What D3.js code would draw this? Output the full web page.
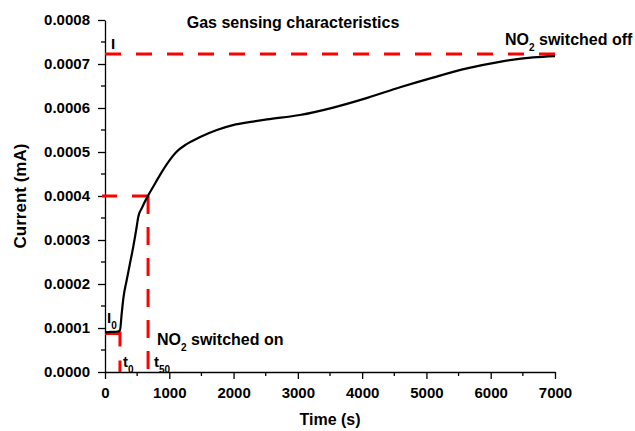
<!DOCTYPE html>
<html>
<head>
<meta charset="utf-8">
<script src="https://cdn.jsdelivr.net/npm/d3@7/dist/d3.min.js"></script>
<style>
  html, body { margin: 0; padding: 0; background: #fff; }
  svg { display: block; }
  text { font-family: "Liberation Sans", Arial, Helvetica, sans-serif; font-weight: bold; fill: #000; }
</style>
</head>
<body>
<svg id="chart" width="635" height="431"></svg>
<script>
// ---- Data ----
const timeS = [0, 100, 200, 233, 260, 285, 338, 389, 440, 493, 518, 571, 674, 750, 820, 960, 1110, 1270, 1480, 1740, 1990, 2300, 2520, 3030, 3550, 4080, 4590, 5100, 5630, 6140, 6660, 7000];
const currentMA = [0.000090, 0.000091, 0.000092, 0.000095, 0.000133, 0.000167, 0.000209, 0.000247, 0.000285, 0.000330, 0.000353, 0.000372, 0.000402, 0.000421, 0.000439, 0.000472, 0.000500, 0.000518, 0.000534, 0.000550, 0.000561, 0.000569, 0.000574, 0.000584, 0.000601, 0.000623, 0.000647, 0.000669, 0.000690, 0.000705, 0.000715, 0.000718];

const xTicks = [0, 1000, 2000, 3000, 4000, 5000, 6000, 7000];
const xMinorTicks = [500, 1500, 2500, 3500, 4500, 5500, 6500];
const yTicks = [0, 0.0001, 0.0002, 0.0003, 0.0004, 0.0005, 0.0006, 0.0007, 0.0008];
const yMinorTicks = [0.00005, 0.00015, 0.00025, 0.00035, 0.00045, 0.00055, 0.00065, 0.00075];

// reference marks
const iMax = 0.000723;   // I (final current)
const i50 = 0.0004;      // 50% current
const i0 = 0.0000875;    // I0 (baseline)
const t0 = 233;          // NO2 switched on
const t50 = 670;         // time to 50%
const tEnd = 7000;       // NO2 switched off

// ---- Layout ----
const svg = d3.select("#chart");
const x = d3.scaleLinear().domain([0, 7000]).range([105, 555]);
const y = d3.scaleLinear().domain([0, 0.0008]).range([372, 20]);

// Axes
const yAxis = d3.axisLeft(y).tickValues(yTicks).tickFormat(d3.format(".4f"))
  .tickSize(7).tickSizeOuter(0).tickPadding(8);
const xAxis = d3.axisBottom(x).tickValues(xTicks).tickFormat(d3.format("d"))
  .tickSize(7).tickSizeOuter(0).tickPadding(8);

const gy = svg.append("g").attr("transform", `translate(${x(0)},0)`).call(yAxis);
const gx = svg.append("g").attr("transform", `translate(0,${y(0)})`).call(xAxis);

[gx, gy].forEach(g => {
  g.select(".domain").attr("stroke", "#000").attr("stroke-width", 1.3);
  g.selectAll(".tick line").attr("stroke", "#000").attr("stroke-width", 1.3);
  g.selectAll(".tick text").style("font-size", "15px").style("font-family", "'Liberation Sans', Arial, sans-serif").style("font-weight", "bold").attr("fill", "#000");
});

// minor ticks
gy.selectAll(".minor").data(yMinorTicks).enter().append("line")
  .attr("x1", 0).attr("x2", -4).attr("y1", d => y(d)).attr("y2", d => y(d))
  .attr("stroke", "#000").attr("stroke-width", 1.3);
gx.selectAll(".minor").data(xMinorTicks).enter().append("line")
  .attr("y1", 0).attr("y2", 4).attr("x1", d => x(d)).attr("x2", d => x(d))
  .attr("stroke", "#000").attr("stroke-width", 1.3);

// Axis titles
svg.append("text").attr("x", 330).attr("y", 425).attr("text-anchor", "middle")
  .style("font-size", "16px").text("Time (s)");
svg.append("text").attr("transform", "translate(26,196) rotate(-90)").attr("text-anchor", "middle")
  .style("font-size", "17px").text("Current (mA)");

// Title
svg.append("text").attr("x", 293).attr("y", 28).attr("text-anchor", "middle")
  .style("font-size", "16px").text("Gas sensing characteristics");

// ---- Red reference lines ----
const red = "#ff0000";
const ref = svg.append("g").attr("fill", "none").attr("stroke", red).attr("stroke-width", 3);
// top line (I)
ref.append("line").attr("x1", x(0)).attr("x2", x(tEnd)).attr("y1", y(iMax)).attr("y2", y(iMax))
  .attr("stroke-dasharray", "16,15");
// 50% horizontal
ref.append("line").attr("x1", x(0) - 3).attr("x2", x(t50)).attr("y1", y(i50)).attr("y2", y(i50))
  .attr("stroke-dasharray", "15,15");
// t50 vertical
ref.append("line").attr("x1", x(t50)).attr("x2", x(t50)).attr("y1", y(i50)).attr("y2", y(0))
  .attr("stroke-dasharray", "18,13");
// I0 horizontal (solid)
ref.append("line").attr("x1", x(0)).attr("x2", x(t0)).attr("y1", y(i0)).attr("y2", y(i0));
// t0 vertical
ref.append("line").attr("x1", x(t0)).attr("x2", x(t0)).attr("y1", y(i0) - 2).attr("y2", y(0))
  .attr("stroke-dasharray", "15,14");

// ---- Curve ----
const pts = timeS.map((t, i) => [t, currentMA[i]]);
const line = d3.line().x(d => x(d[0])).y(d => y(d[1])).curve(d3.curveMonotoneX);
svg.append("path").datum(pts).attr("d", line)
  .attr("fill", "none").attr("stroke", "#000").attr("stroke-width", 2.2)
  .attr("stroke-linejoin", "round");

// ---- Annotations ----
function sub(sel, main, subTxt, rest, shift, subSize) {
  sel.append("tspan").text(main);
  sel.append("tspan").attr("dy", shift).style("font-size", subSize + "px").text(subTxt);
  if (rest) sel.append("tspan").attr("dy", -shift).text(rest);
}
svg.append("text").attr("x", x(0) + 6).attr("y", y(iMax) - 5).style("font-size", "15px").text("I");

const tOff = svg.append("text").attr("x", 505).attr("y", 45).style("font-size", "16px");
sub(tOff, "NO", "2", " switched off", 6, 10);

const tOn = svg.append("text").attr("x", 157).attr("y", 345).style("font-size", "16px");
sub(tOn, "NO", "2", " switched on", 6, 10);

const tI0 = svg.append("text").attr("x", x(0) + 2).attr("y", y(i0) - 11).style("font-size", "15px");
sub(tI0, "I", "0", null, 6, 10);

const tt0 = svg.append("text").attr("x", x(t0) + 3).attr("y", 367).style("font-size", "15px");
sub(tt0, "t", "0", null, 6, 10);

const tt50 = svg.append("text").attr("x", x(t50) + 6).attr("y", 367).style("font-size", "15px");
sub(tt50, "t", "50", null, 6, 10);
</script>
</body>
</html>
